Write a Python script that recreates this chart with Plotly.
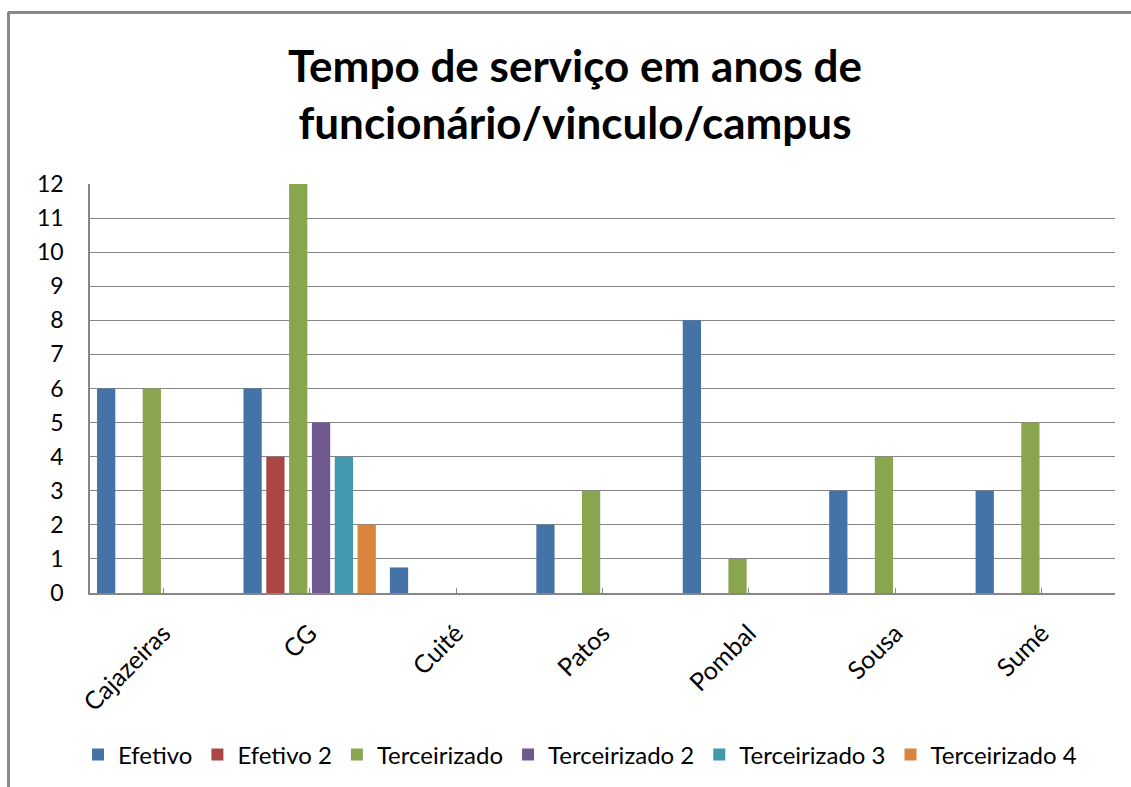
import plotly.graph_objects as go

categories = ["Cajazeiras", "CG", "Cuité", "Patos", "Pombal", "Sousa", "Sumé"]
series_names = ["Efetivo", "Efetivo 2", "Terceirizado", "Terceirizado 2", "Terceirizado 3", "Terceirizado 4"]
efetivo = [6, 6, 0.75, 2, 8, 3, 3]
efetivo2 = [None, 4, None, None, None, None, None]
terceirizado = [6, 12, None, 3, 1, 4, 5]
terceirizado2 = [None, 5, None, None, None, None, None]
terceirizado3 = [None, 4, None, None, None, None, None]
terceirizado4 = [None, 2, None, None, None, None, None]
colors = ["#4572A7", "#AA4643", "#89A54E", "#71588F", "#4198AF", "#DB843D"]
y_ticks = list(range(0, 13))

values = [efetivo, efetivo2, terceirizado, terceirizado2, terceirizado3, terceirizado4]

W, H = 1131, 787
L, R, T, B = 90, 16, 184, 194
pw, ph = W - L - R, H - T - B

def px_x(p):
    return (p - L) / pw

def px_y(p):
    return (H - B - p) / ph

fig = go.Figure()
for name, vals, c in zip(series_names, values, colors):
    fig.add_trace(go.Bar(x=categories, y=vals, name=name, marker=dict(color=c, line=dict(width=0))))

font_fam = "Lato, 'Open Sans', sans-serif"
border = dict(color="#8a8a8a", width=3)
fig.update_layout(
    width=W, height=H,
    margin=dict(l=L, r=R, t=T, b=B, autoexpand=False),
    paper_bgcolor="white", plot_bgcolor="white",
    barmode="group", bargap=0.065, bargroupgap=0.2,
    font=dict(family=font_fam, color="#000000"),
    title=dict(text="<b>Tempo de serviço em anos de<br>funcionário/vinculo/campus</b>",
               x=575 / W, xanchor="center", xref="container",
               y=1 - 82 / H, yanchor="middle",
               font=dict(size=44, family=font_fam, color="#000000")),
    showlegend=True,
    legend=dict(orientation="h", x=580 / W, xanchor="center", xref="container",
                y=px_y(755), yanchor="middle",
                font=dict(size=24, family=font_fam, color="#000000"),
                itemsizing="constant", traceorder="normal", itemwidth=30),
    shapes=[
        dict(type="line", xref="paper", yref="paper",
             x0=px_x(8), x1=px_x(1131), y0=px_y(12.5), y1=px_y(12.5), line=border, layer="below"),
        dict(type="line", xref="paper", yref="paper",
             x0=px_x(8.5), x1=px_x(8.5), y0=px_y(12), y1=px_y(787), line=border, layer="below"),
    ],
)
fig.update_xaxes(showgrid=False, showline=True, linecolor="#868686", linewidth=1.5,
                 ticks="inside", ticklen=5, tickcolor="#868686", tickangle=-45,
                 ticklabelstandoff=14,
                 tickfont=dict(size=25, family=font_fam, color="#000000"))
fig.update_yaxes(range=[0, 12], tickvals=y_ticks, showgrid=True, gridcolor="#868686", gridwidth=1,
                 showline=True, linecolor="#868686", linewidth=1.5, zeroline=False,
                 ticks="", ticklabelstandoff=20,
                 tickfont=dict(size=23, family=font_fam, color="#000000"))

fig.write_html("out.html", config={"displayModeBar": False},
               post_script="document.body.style.margin='0px';")
